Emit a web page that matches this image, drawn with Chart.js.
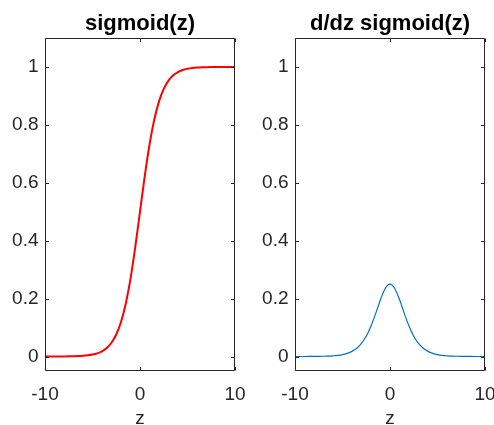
<!DOCTYPE html>
<html>
<head>
<meta charset="utf-8">
<script src="https://cdn.jsdelivr.net/npm/chart.js@4.4.1/dist/chart.umd.min.js"></script>
<style>
	html, body { margin: 0; padding: 0; background: #fff; }
	.wrap { position: relative; width: 494px; height: 425px; overflow: hidden; }
	canvas { position: absolute; top: 0; }
	#chart-sig { left: 0; }
	#chart-dsig { left: 247px; }
</style>
</head>
<body>
<div class="wrap">
	<canvas id="chart-sig" width="247" height="436"></canvas>
	<canvas id="chart-dsig" width="260" height="436"></canvas>
</div>
<script>
// z samples and curve values
var zValues = [-10, -9.5, -9, -8.5, -8, -7.5, -7, -6.5, -6, -5.5, -5, -4.5, -4, -3.5, -3, -2.5, -2, -1.5, -1, -0.5,
	0, 0.5, 1, 1.5, 2, 2.5, 3, 3.5, 4, 4.5, 5, 5.5, 6, 6.5, 7, 7.5, 8, 8.5, 9, 9.5, 10];
var sigmoidValues = [0.00005, 0.00007, 0.00012, 0.0002, 0.00034, 0.00055, 0.0009, 0.0015, 0.0025, 0.0041, 0.0067,
	0.011, 0.018, 0.0293, 0.0474, 0.0759, 0.1192, 0.1824, 0.2689, 0.3775,
	0.5, 0.6225, 0.7311, 0.8176, 0.8808, 0.9241, 0.9526, 0.9707, 0.982, 0.989, 0.9933,
	0.9959, 0.9975, 0.9985, 0.9991, 0.99945, 0.99966, 0.9998, 0.99988, 0.99993, 0.99995];
var slopeValues = [0.00005, 0.00007, 0.00012, 0.0002, 0.00034, 0.00055, 0.0009, 0.0015, 0.0025, 0.004, 0.0066,
	0.0109, 0.0177, 0.0285, 0.0452, 0.0701, 0.105, 0.1491, 0.1966, 0.235,
	0.25, 0.235, 0.1966, 0.1491, 0.105, 0.0701, 0.0452, 0.0285, 0.0177, 0.0109, 0.0066,
	0.004, 0.0025, 0.0015, 0.0009, 0.00055, 0.00034, 0.0002, 0.00012, 0.00007, 0.00005];
var yTicks = [0, 0.2, 0.4, 0.6, 0.8, 1];
var xTicks = [-10, 0, 10];

var axisColor = "#262626";
var fontFamily = "'Liberation Sans', Arial, Helvetica, sans-serif";

// box round the plot area with inward ticks on all four sides
var boxPlugin = {
	id: "box",
	afterDraw: function(chart) {
		var ctx = chart.ctx;
		var a = chart.chartArea;
		var xs = chart.scales.x;
		var ys = chart.scales.y;
		var tl = 3.5;
		var l = Math.round(a.left) + 0.5, r = Math.round(a.right) - 0.5;
		var t = Math.round(a.top) + 0.5, b = Math.round(a.bottom) - 0.5;
		ctx.save();
		ctx.strokeStyle = axisColor;
		ctx.lineWidth = 1;
		ctx.beginPath();
		ctx.rect(l, t, r - l, b - t);
		xs.ticks.forEach(function(tk) {
			var px = Math.round(xs.getPixelForValue(tk.value)) + 0.5;
			ctx.moveTo(px, b); ctx.lineTo(px, b - tl);
			ctx.moveTo(px, t); ctx.lineTo(px, t + tl);
		});
		ys.ticks.forEach(function(tk) {
			var py = Math.round(ys.getPixelForValue(tk.value)) + 0.5;
			ctx.moveTo(l, py); ctx.lineTo(l + tl, py);
			ctx.moveTo(r, py); ctx.lineTo(r - tl, py);
		});
		ctx.stroke();
		ctx.restore();
	}
};

function makePoints(ys) {
	var pts = [];
	for (var i = 0; i < zValues.length; i++) {
		pts.push({ x: zValues[i], y: ys[i] });
	}
	return pts;
}

function makeChart(id, titleText, values, color, width, yWidth, padRight) {
	var ctx = document.getElementById(id).getContext("2d");
	return new Chart(ctx, {
		type: "scatter",
		data: {
			datasets: [{
				data: makePoints(values),
				showLine: true,
				borderColor: color,
				borderWidth: width,
				pointRadius: 0,
				cubicInterpolationMode: "monotone",
				fill: false
			}]
		},
		options: {
			responsive: false,
			animation: false,
			devicePixelRatio: 1,
			layout: { padding: { left: 0, right: padRight, top: 0, bottom: 0 } },
			plugins: {
				legend: { display: false },
				tooltip: { enabled: false },
				title: {
					display: true,
					fullSize: false,
					text: titleText,
					color: "#000",
					font: { family: fontFamily, size: 22, weight: "bold", lineHeight: 1.2 },
					padding: { top: 11, bottom: 0.5 }
				}
			},
			scales: {
				x: {
					type: "linear",
					min: -10,
					max: 10,
					afterBuildTicks: function(s) { s.ticks = xTicks.map(function(v) { return { value: v }; }); },
					afterFit: function(s) { s.height = 65; },
					grid: { display: false, drawTicks: true, tickLength: 11 },
					border: { display: false },
					ticks: {
						color: axisColor,
						padding: 1,
						maxRotation: 0,
						font: { family: fontFamily, size: 19 },
						callback: function(v) { return String(v); }
					},
					title: {
						display: true,
						text: "z",
						color: axisColor,
						font: { family: fontFamily, size: 19 },
						padding: { top: 0, bottom: 5.5 }
					}
				},
				y: {
					type: "linear",
					min: -0.05,
					max: 1.1,
					afterBuildTicks: function(s) { s.ticks = yTicks.map(function(v) { return { value: v }; }); },
					afterFit: function(s) { s.width = yWidth; },
					grid: { display: false, drawTicks: false },
					border: { display: false },
					ticks: {
						color: axisColor,
						padding: 6.5,
						font: { family: fontFamily, size: 19 },
						callback: function(v) { return String(v); }
					}
				}
			}
		},
		plugins: [boxPlugin]
	});
}

makeChart("chart-sig", "sigmoid(z)", sigmoidValues, "#ff0000", 2, 45, 12);
makeChart("chart-dsig", "d/dz sigmoid(z)", slopeValues, "#0072bd", 1.2, 48, 22);
</script>
</body>
</html>
